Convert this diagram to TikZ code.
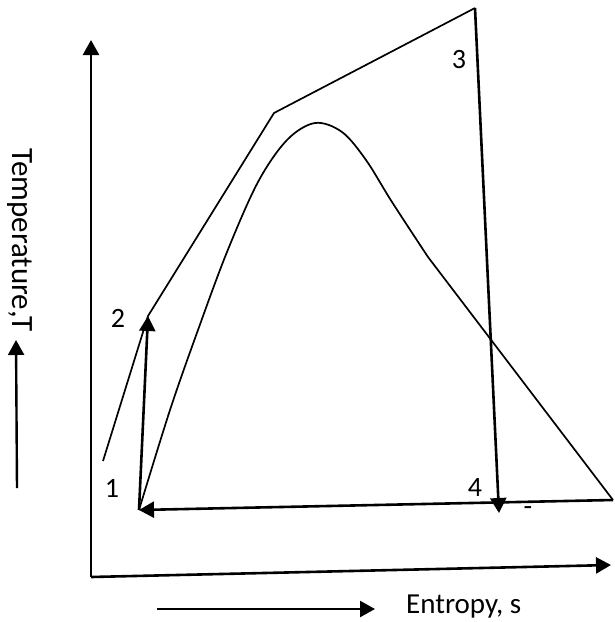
\documentclass[tikz,border=0pt]{standalone}
\usepackage{fontspec}
\setmainfont{Carlito}
\usetikzlibrary{arrows.meta}
\tikzset{
  axisline/.style={line width=2.6pt, -{Triangle[length=15pt, width=16pt]}},
  cyclearrow/.style={line width=2.6pt, -{Triangle[length=15pt, width=16pt]}},
  thinline/.style={line width=1.7pt, line join=round},
  lbl/.style={inner sep=0pt, font=\fontsize{28}{31}\selectfont}
}

\begin{document}
\begin{tikzpicture}[x=1pt, y=-1pt]
  \useasboundingbox (0,0) rectangle (615,622);
  \coordinate (o) at (91,577);
  \coordinate (ytip) at (91,40);
  \coordinate (xtip) at (611,565);
  \coordinate (p1) at (139,510);
  \coordinate (p2) at (148,316);
  \coordinate (k) at (274,113);
  \coordinate (p3) at (475,8);
  \coordinate (p4) at (499,513);
  \coordinate (e) at (613,500);
  \coordinate (s) at (103,461);
  % axes
  \draw[axisline] (o) -- (ytip);
  \draw[axisline] (o) -- (xtip);
  % saturation dome
  \draw[thinline] plot[smooth, tension=0.55] coordinates {(139,510) (170,410) (198,330)
      (227,252) (258,182) (287,140) (315,123) (342,132) (366,160)
      (392,202) (428,257)} -- (e);
  % cycle
  \draw[thinline] (s) -- (p2) -- (k) -- (p3);
  \draw[cyclearrow] (p1) -- (p2);
  \draw[cyclearrow] (p3) -- (p4);
  \draw[cyclearrow] (e) -- (p1);
  % labels
  \node[lbl] (l1) at (112,488) {1};
  \node[lbl] (l2) at (118,318) {2};
  \node[lbl] (l3) at (459,60) {3};
  \node[lbl] (l4) at (475,488) {4};
  \node[lbl] (dash) at (528,511) {-};
  \node[lbl, anchor=west, font=\fontsize{29}{32}\selectfont] (slab) at (406,607) {Entropy, s};
  \node[lbl, rotate=-90, font=\fontsize{31}{34}\selectfont] (tlab) at (20,240) {Temperature,T};
  \coordinate (sa) at (157,609);
  \coordinate (sb) at (375,609);
  \coordinate (ta) at (17,488);
  \coordinate (tb) at (16,340);
  \draw[cyclearrow, line width=2.4pt] (sa) -- (sb);
  \draw[cyclearrow, line width=2.4pt] (ta) -- (tb);
\end{tikzpicture}
\end{document}
